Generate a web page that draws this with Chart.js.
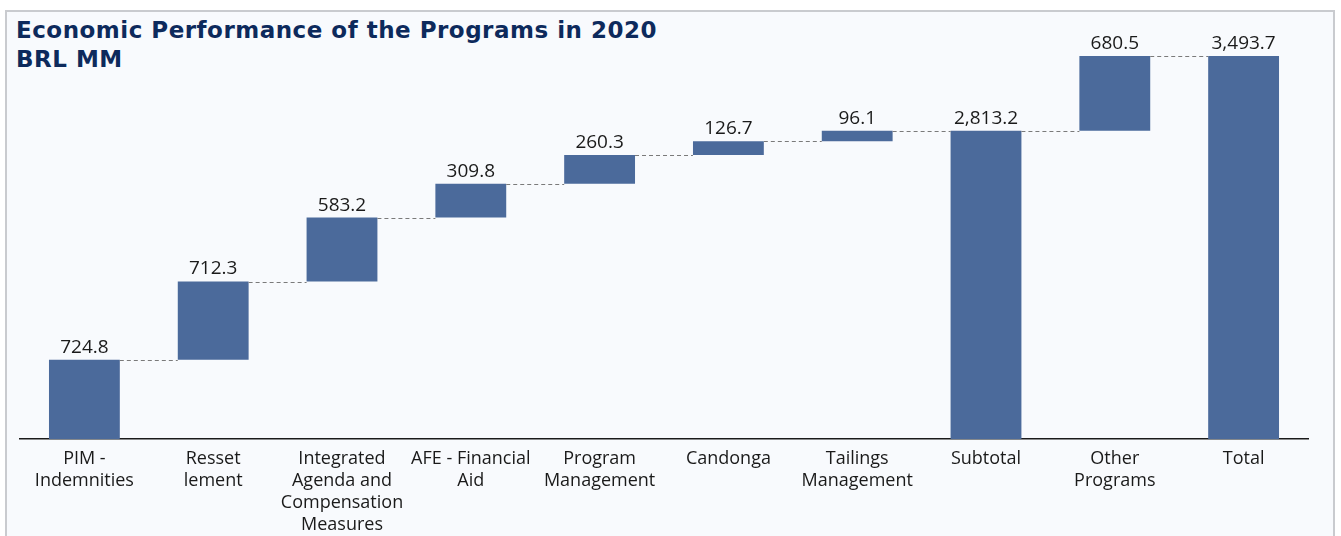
<!DOCTYPE html>
<html>
<head>
<meta charset="utf-8">
<script src="https://cdn.jsdelivr.net/npm/chart.js@4.4.1/dist/chart.umd.min.js"></script>
<style>
  html, body { margin: 0; padding: 0; background: #ffffff; }
  body { width: 1341px; height: 536px; position: relative; overflow: hidden; }
  #panel {
    position: absolute; left: 5px; top: 10px; width: 1330px; height: 540px;
    background: #f8fafd; border: 2px solid #c9cbcf; box-sizing: border-box;
  }
  #title {
    position: absolute; left: 16px; top: 16px;
    font-family: "DejaVu Sans", sans-serif; font-weight: bold; font-size: 23px;
    letter-spacing: 0.5px; line-height: 29px; color: #0d2a5c;
  }
  #wrap { position: absolute; left: 0; top: 0; width: 1341px; height: 537px; }
</style>
</head>
<body>
<div id="panel"></div>
<div id="title">Economic Performance of the Programs in 2020<br>BRL MM</div>
<div id="wrap"><canvas id="myChart"></canvas></div>
<script>
const categories = [
  ['PIM -', 'Indemnities'],
  ['Resset', 'lement'],
  ['Integrated', 'Agenda and', 'Compensation', 'Measures'],
  ['AFE - Financial', 'Aid'],
  ['Program', 'Management'],
  ['Candonga'],
  ['Tailings', 'Management'],
  ['Subtotal'],
  ['Other', 'Programs'],
  ['Total']
];
const values = [724.8, 712.3, 583.2, 309.8, 260.3, 126.7, 96.1, 2813.2, 680.5, 3493.7];
const isTotal = [false, false, false, false, false, false, false, true, false, true];

const barColor = '#4b6a9b';

// floating ranges for the waterfall
const ranges = [];
const levels = [];
let running = 0;
values.forEach((v, i) => {
  if (isTotal[i]) {
    ranges.push([0, v]);
    running = v;
  } else {
    ranges.push([running, running + v]);
    running += v;
  }
  levels.push(running);
});

function formatValue(v) {
  return v.toLocaleString('en-US', { minimumFractionDigits: 1, maximumFractionDigits: 1 });
}

const waterfallExtras = {
  id: 'waterfallExtras',
  afterDatasetsDraw(chart) {
    const { ctx, scales: { y } } = chart;
    const meta = chart.getDatasetMeta(0);
    ctx.save();

    // dashed connectors between bars
    ctx.strokeStyle = '#7a7a7a';
    ctx.lineWidth = 1;
    ctx.setLineDash([4, 3]);
    for (let i = 0; i < meta.data.length - 1; i++) {
      const a = meta.data[i];
      const b = meta.data[i + 1];
      const yy = Math.round(y.getPixelForValue(levels[i])) + 0.5;
      ctx.beginPath();
      ctx.moveTo(a.x + a.width / 2, yy);
      ctx.lineTo(b.x - b.width / 2, yy);
      ctx.stroke();
    }
    ctx.setLineDash([]);

    // value labels
    ctx.fillStyle = '#1a1a1a';
    ctx.font = '19px "Open Sans", sans-serif';
    ctx.textAlign = 'center';
    ctx.textBaseline = 'bottom';
    meta.data.forEach((bar, i) => {
      const top = y.getPixelForValue(ranges[i][1]);
      ctx.fillText(formatValue(values[i]), bar.x, top - 3);
    });
    ctx.restore();
  }
};

const ctx = document.getElementById('myChart');

new Chart(ctx, {
  type: 'bar',
  data: {
    labels: categories,
    datasets: [{
      data: ranges,
      backgroundColor: barColor,
      borderWidth: 0,
      barPercentage: 0.55,
      categoryPercentage: 1
    }]
  },
  options: {
    responsive: true,
    maintainAspectRatio: false,
    animation: false,
    layout: { padding: { left: 20, right: 33, top: 40, bottom: 0 } },
    plugins: {
      legend: { display: false },
      tooltip: { enabled: false }
    },
    scales: {
      x: {
        grid: { display: false },
        border: { display: true, color: '#1a1a1a', width: 1.5 },
        ticks: {
          color: '#1a1a1a',
          font: { family: '"Open Sans", sans-serif', size: 18, lineHeight: 1.22 },
          padding: 1,
          maxRotation: 0,
          autoSkip: false
        }
      },
      y: {
        display: false,
        min: 0,
        max: 3640
      }
    }
  },
  plugins: [waterfallExtras]
});
</script>
</body>
</html>
